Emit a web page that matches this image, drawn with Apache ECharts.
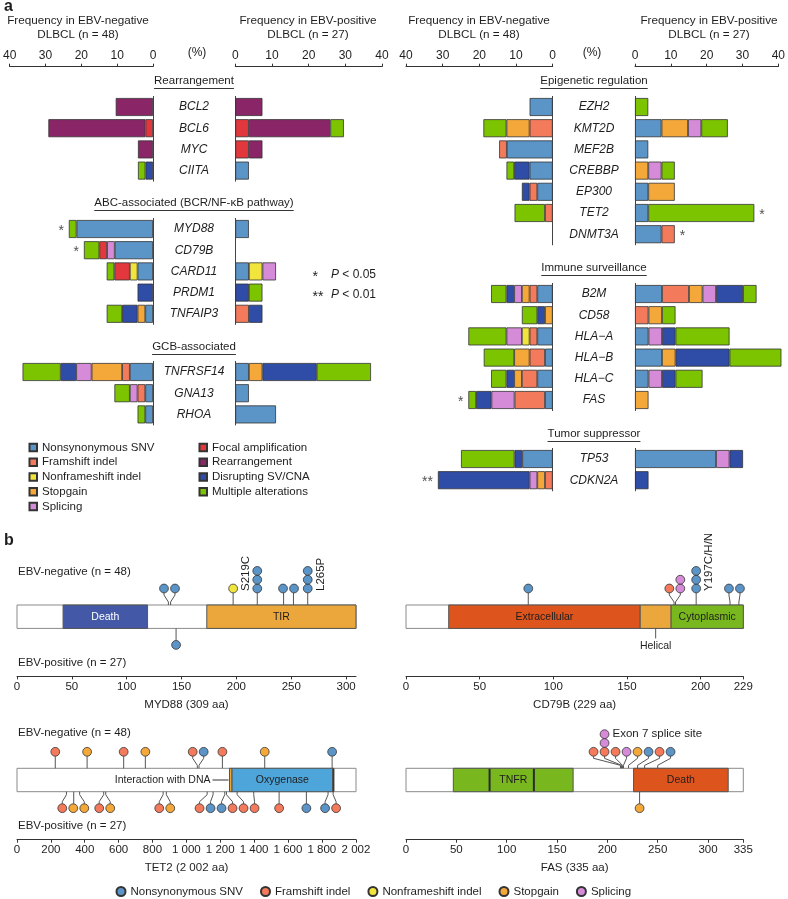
<!DOCTYPE html>
<html><head><meta charset="utf-8"><title>EBV DLBCL alterations</title>
<script src="https://cdn.jsdelivr.net/npm/echarts@6.0.0/dist/echarts.min.js"></script>
<style>html,body{margin:0;padding:0;background:#fff;}#chart{width:788px;height:899px;}</style>
</head><body><div id="chart"></div>
<script>
// ================= DATA: panel a =================
const types = ['Nonsynonymous SNV','Framshift indel','Nonframeshift indel','Stopgain','Splicing',
  'Focal amplification','Rearrangement','Disrupting SV/CNA','Multiple alterations'];
const genes = ['BCL2','BCL6','MYC','CIITA','MYD88','CD79B','CARD11','PRDM1','TNFAIP3','TNFRSF14','GNA13','RHOA',
  'EZH2','KMT2D','MEF2B','CREBBP','EP300','TET2','DNMT3A','B2M','CD58','HLA−A','HLA−B','HLA−C','FAS','TP53','CDKN2A'];
const groupNames = ['Rearrangement','ABC-associated (BCR/NF-κB pathway)','GCB-associated',
  'Epigenetic regulation','Immune surveillance','Tumor suppressor'];
const groupRearr = ['BCL2','BCL6','MYC','CIITA'];
const groupABC = ['MYD88','CD79B','CARD11','PRDM1','TNFAIP3'];
const groupGCB = ['TNFRSF14','GNA13','RHOA'];
const groupEpi = ['EZH2','KMT2D','MEF2B','CREBBP','EP300','TET2','DNMT3A'];
const groupImm = ['B2M','CD58','HLA−A','HLA−B','HLA−C','FAS'];
const groupTS = ['TP53','CDKN2A'];
const pctTicks = [0, 10, 20, 30, 40];

// Frequency (%) in EBV-negative DLBCL (n = 48), gene order as in `genes`
const negSNV = [0,0,0,0, 20.8,10.4,4.2,0,2.1, 6.3,2.1,2.1, 6.3,0,12.5,6.3,4.2,0,0, 4.2,0,4.2,2.1,4.2,2.1, 8.3,0];
const negFS  = [0,0,0,0, 0,0,0,0,0, 2.1,2.1,0, 0,6.3,2.1,0,2.1,2.1,0, 2.1,0,2.1,4.2,4.2,8.3, 0,2.1];
const negNFS = [0,0,0,0, 0,0,2.1,0,0, 0,0,0, 0,0,0,0,0,0,0, 0,0,2.1,0,0,0, 0,0];
const negSG  = [0,0,0,0, 0,0,0,0,2.1, 8.3,0,0, 0,6.3,0,0,0,0,0, 2.1,2.1,0,4.2,2.1,0, 0,2.1];
const negSP  = [0,0,0,0, 0,2.1,0,0,0, 4.2,2.1,0, 0,0,0,0,0,0,0, 2.1,0,4.2,0,0,6.3, 0,2.1];
const negAMP = [0,2.1,0,0, 0,2.1,4.2,0,0, 0,0,0, 0,0,0,0,0,0,0, 0,0,0,0,0,0, 0,0];
const negREA = [10.4,27.1,4.2,0, 0,0,0,0,0, 0,0,0, 0,0,0,0,0,0,0, 0,0,0,0,0,0, 0,0];
const negSV  = [0,0,0,2.1, 0,0,0,4.2,4.2, 4.2,0,0, 0,0,0,4.2,2.1,0,0, 2.1,2.1,0,0,2.1,4.2, 2.1,25.0];
const negMUL = [0,0,0,2.1, 2.1,4.2,2.1,0,4.2, 10.4,4.2,2.1, 0,6.3,0,2.1,0,8.3,0, 4.2,4.2,10.4,8.3,4.2,2.1, 14.6,0];
// Frequency (%) in EBV-positive DLBCL (n = 27)
const posSNV = [0,0,0,3.7, 3.7,0,3.7,0,0, 3.7,3.7,11.1, 0,7.4,3.7,0,3.7,3.7,7.4, 7.4,0,3.7,7.4,3.7,0, 22.2,0];
const posFS  = [0,0,0,0, 0,0,0,0,3.7, 0,0,0, 0,0,0,0,0,0,3.7, 7.4,3.7,0,0,0,0, 0,0];
const posNFS = [0,0,0,0, 0,0,3.7,0,0, 0,0,0, 0,0,0,0,0,0,0, 0,0,0,0,0,0, 0,0];
const posSG  = [0,0,0,0, 0,0,0,0,0, 3.7,0,0, 0,7.4,0,3.7,7.4,0,0, 3.7,3.7,0,3.7,0,3.7, 0,0];
const posSP  = [0,0,0,0, 0,0,3.7,0,0, 0,0,0, 0,3.7,0,3.7,0,0,0, 3.7,0,3.7,0,3.7,0, 3.7,0];
const posAMP = [0,3.7,3.7,0, 0,0,0,0,0, 0,0,0, 0,0,0,0,0,0,0, 0,0,0,0,0,0, 0,0];
const posREA = [7.4,22.2,3.7,0, 0,0,0,0,0, 0,0,0, 0,0,0,0,0,0,0, 0,0,0,0,0,0, 0,0];
const posSV  = [0,0,0,0, 0,0,0,3.7,3.7, 14.8,0,0, 0,0,0,0,0,0,0, 7.4,0,3.7,14.8,3.7,0, 3.7,3.7];
const posMUL = [0,3.7,0,0, 0,0,0,3.7,0, 14.8,0,0, 3.7,7.4,0,3.7,0,29.6,0, 3.7,3.7,14.8,14.8,7.4,0, 0,0];
const negStars = {MYD88:'*', CD79B:'*', FAS:'*', CDKN2A:'**'};
const posStars = {TET2:'*', DNMT3A:'*'};

// ================= DATA: panel b =================
const myd88Ticks = [0,50,100,150,200,250,300,309];
const cd79bTicks = [0,50,100,150,200,229];
const tet2Ticks  = [0,200,400,600,800,1000,1200,1400,1600,1800,2002];
const fasTicks   = [0,50,100,150,200,250,300,335];
const proteinNames = ['MYD88','CD79B','TET2','FAS'];
const proteinLengths = [309, 229, 2002, 335];
const myd88DomNames = ['Death','TIR'];            const myd88DomStart = [42,173];        const myd88DomEnd = [119,309];
const cd79bDomNames = ['Extracellular','Helical','Cytoplasmic']; const cd79bDomStart = [29,159,180]; const cd79bDomEnd = [159,180,229];
const tet2DomNames  = ['Interaction with DNA','Oxygenase',''];   const tet2DomStart = [1255,1270,1864]; const tet2DomEnd = [1270,1864,1872];
const fasDomNames   = ['TNFR','Death'];           const fasDomStart = [47,226];          const fasDomEnd = [166,320];
const fasRepeatBounds = [83,127];
// mutations: [amino-acid position, type, number of cases]
const myd88Neg = [[138,'SNV',1],[140,'SNV',1],[197,'NFS',1],[219,'SNV',3],[243,'SNV',1],[252,'SNV',1],[265,'SNV',3]];
const myd88Pos = [[145,'SNV',1]];
const cd79bNeg = [[83,'SNV',1],[182,'FS',1],[183,'SP',2],[197,'SNV',3],[220,'SNV',1],[226,'SNV',1]];
const cd79bPos = [];
const tet2Neg = [[226,'FS',1],[414,'SG',1],[630,'FS',1],[758,'SG',1],[1065,'FS',1],[1075,'SNV',1],[1213,'FS',1],[1463,'SG',1],[1861,'SNV',1]];
const tet2Pos = [[292,'FS',1],[335,'SG',1],[370,'SG',1],[512,'FS',1],[524,'SG',1],[863,'FS',1],[882,'SG',1],[1123,'FS',1],
  [1158,'SNV',1],[1227,'SNV',1],[1237,'FS',1],[1300,'FS',1],[1398,'FS',1],[1548,'FS',1],[1709,'SNV',1],[1837,'SNV',1],[1867,'FS',1]];
const fasNeg = [[213,'FS',1],[214,'FS',1],[214,'SP',2],[215,'FS',1],[216,'SP',1],[221,'SG',1],[230,'SNV',1],[237,'FS',1],[250,'SNV',1]];
const fasPos = [[232,'SG',1]];
const myd88Notes = [[219,'S219C'],[265,'L265P']];
const cd79bNotes = [[197,'Y197C/H/N']];
const tet2Notes = [];
const fasNotes = [[214,'Exon 7 splice site']];

// ================= STYLE / LAYOUT =================
const FONT = '"Liberation Sans", Arial, Helvetica, sans-serif';
const TXT = '#1e1e1e';
const colors = ['#5b95c8','#f47a5c','#f1e43c','#f5a83a','#d68bd9','#e2383d','#8a2667','#2f4ca6','#7cc300'];
const mutType = {SNV:0, FS:1, NFS:2, SG:3, SP:4};
const negData = [negSNV,negFS,negNFS,negSG,negSP,negAMP,negREA,negSV,negMUL];
const posData = [posSNV,posFS,posNFS,posSG,posSP,posAMP,posREA,posSV,posMUL];
const groupGenes = [groupRearr, groupABC, groupGCB, groupEpi, groupImm, groupTS];
const groupLayout = [{col:0,top:96.4},{col:0,top:218.4},{col:0,top:361.4},{col:1,top:96.4},{col:1,top:283.4},{col:1,top:448.4}];
const colX = [{neg:[6,153], pos:[235.3,382], mid:194}, {neg:[406,552.7], pos:[635,781], mid:594}];
const ROW = 21.2, AXIS_Y = 66.7;

const mctx = document.createElement('canvas').getContext('2d');
function textW(t, size){ mctx.font = size + 'px "Liberation Sans", Arial'; return mctx.measureText(t).width; }
function T(x, y, text, opt){ return {type:'text', x:x, y:y, silent:true, style:Object.assign({text:text, fontSize:11.5, fontFamily:FONT, fill:TXT, align:'center', verticalAlign:'middle'}, opt||{})}; }

const grids = [], xAxes = [], yAxes = [], series = [], graphics = [];

// ---------- panel a ----------
groupGenes.forEach(function(gl, g){
  const L = groupLayout[g], C = colX[L.col];
  ['neg','pos'].forEach(function(side){
    const gi = grids.length;
    const xr = C[side];
    grids.push({left:xr[0], top:L.top, width:xr[1]-xr[0], height:gl.length*ROW});
    const first = (g === 0 || g === 3);
    xAxes.push({gridIndex:gi, type:'value', min:0, max:40, interval:10, inverse: side==='neg', position:'top',
      offset: L.top - AXIS_Y, show:first,
      axisLine:{show:true, lineStyle:{color:'#333', width:1}},
      axisTick:{show:true, length:3, lineStyle:{color:'#333'}},
      axisLabel:{margin:5, fontSize:12, color:TXT, fontFamily:FONT},
      splitLine:{show:false}});
    yAxes.push({gridIndex:gi, type:'category', data:gl, inverse:true, position: side==='neg' ? 'right' : 'left',
      axisLine:{show:true, lineStyle:{color:'#444', width:1}}, axisTick:{show:false},
      axisLabel: side==='neg' ? {show:true, align:'center', margin:C.mid - xr[1], fontStyle:'italic', fontSize:12, color:TXT, fontFamily:FONT} : {show:false},
      splitLine:{show:false}});
    const src = side==='neg' ? negData : posData;
    types.forEach(function(t, ti){
      series.push({type:'bar', name:t, xAxisIndex:gi, yAxisIndex:gi, stack:'s'+gi, barWidth:18, silent:true,
        data: gl.map(function(gn){ const v = src[ti][genes.indexOf(gn)]; return v > 0 ? v : '-'; }),
        itemStyle:{color:colors[ti], borderColor:'#333', borderWidth:0.8}});
    });
    const stars = side==='neg' ? negStars : posStars;
    const sd = gl.filter(function(gn){ return stars[gn]; }).map(function(gn){
      const k = genes.indexOf(gn);
      return [src.reduce(function(s, arr){ return s + arr[k]; }, 0), gn, stars[gn]];
    });
    if (sd.length) series.push({type:'scatter', xAxisIndex:gi, yAxisIndex:gi, symbolSize:0, silent:true, data:sd,
      label:{show:true, position: side==='neg' ? 'left' : 'right', distance:5, formatter:function(p){ return p.data[2]; },
        fontSize:14, color:TXT, fontFamily:FONT, offset:[0,2]}});
  });
});

// titles
graphics.push(T(4, 7, 'a', {align:'left', fontSize:16, fontWeight:'bold'}));
[[78,'Frequency in EBV-negative','DLBCL (n = 48)'],[308,'Frequency in EBV-positive','DLBCL (n = 27)'],
 [479,'Frequency in EBV-negative','DLBCL (n = 48)'],[709,'Frequency in EBV-positive','DLBCL (n = 27)']].forEach(function(t){
  graphics.push(T(t[0], 20.5, t[1], {fontSize:11.7}));
  graphics.push(T(t[0], 34.5, t[2], {fontSize:11.7}));
});
graphics.push(T(197, 53, '(%)', {fontSize:12}));
graphics.push(T(592, 53, '(%)', {fontSize:12}));
// group headers (underlined)
const headerY = [81, 203, 347, 81, 268, 434];
groupNames.forEach(function(n, g){
  const cx = colX[groupLayout[g].col].mid, y = headerY[g], w = textW(n, 11.5);
  graphics.push(T(cx, y, n));
  graphics.push({type:'line', silent:true, shape:{x1:cx-w/2, y1:y+7.5, x2:cx+w/2, y2:y+7.5}, style:{stroke:TXT, lineWidth:0.9}});
});
// P-value key
graphics.push(T(312.5, 277, '*', {align:'left', fontSize:14}));
graphics.push(T(331, 275, '{i|P} < 0.05', {align:'left', fontSize:12, rich:{i:{fontStyle:'italic', fontSize:12, fontFamily:FONT, fill:TXT}}}));
graphics.push(T(312.5, 297, '**', {align:'left', fontSize:14}));
graphics.push(T(331, 295, '{i|P} < 0.01', {align:'left', fontSize:12, rich:{i:{fontStyle:'italic', fontSize:12, fontFamily:FONT, fill:TXT}}}));

// ---------- panel b ----------
graphics.push(T(4, 541, 'b', {align:'left', fontSize:16, fontWeight:'bold'}));
const BH = 23.4, AX_GAP = 48;
const domainColors = [
  [['#4358a7','#ffffff'],['#eba73b',TXT]],
  [['#de541d',TXT],['#eba73b',TXT],['#79b71f',TXT]],
  [['#eba73b',TXT],['#4ea5d9',TXT],['#151515',TXT]],
  [['#79b71f',TXT],['#de541d',TXT]]
];
const outsideLabel = {'Helical':'below', 'Interaction with DNA':'left'};
const noteSide = {'S219C':-1};
const bLayout = [{left:17, right:356, top:605, mode:'vertical'},{left:406, right:743.3, top:605, mode:'vertical'},
                 {left:17, right:356, top:768.3, mode:'vertical'},{left:406, right:743.3, top:768.3, mode:'horizontal'}];
const bTicks = [myd88Ticks, cd79bTicks, tet2Ticks, fasTicks];
const bDoms = [[myd88DomNames,myd88DomStart,myd88DomEnd],[cd79bDomNames,cd79bDomStart,cd79bDomEnd],
               [tet2DomNames,tet2DomStart,tet2DomEnd],[fasDomNames,fasDomStart,fasDomEnd]];
const bMuts = [[myd88Neg,myd88Pos],[cd79bNeg,cd79bPos],[tet2Neg,tet2Pos],[fasNeg,fasPos]];
const bNotes = [myd88Notes, cd79bNotes, tet2Notes, fasNotes];
function fmtNum(v){ return v >= 1000 ? String(v).replace(/\B(?=(\d{3})+(?!\d))/g, ' ') : String(v); }

function buildStacks(muts, api){
  const stacks = [];
  muts.forEach(function(m, i){
    let s = stacks.find(function(q){ return q.aa === m[0]; });
    if (!s){ s = {aa:m[0], first:i, items:[], x0:api.coord([m[0], 0.5])[0]}; stacks.push(s); }
    s.items.push(m);
  });
  stacks.sort(function(a, b){ return a.x0 - b.x0; });
  stacks.forEach(function(s){ s.x = s.x0; });
  const SP = 11;
  for (let it = 0; it < 600; it++){
    for (let i = 0; i < stacks.length - 1; i++){
      const gap = stacks[i+1].x - stacks[i].x;
      if (gap < SP){ const d = (SP - gap)/2; stacks[i].x -= d; stacks[i+1].x += d; }
    }
  }
  return stacks;
}

function lolliSeries(gi, muts, dir, notes, mode){
  const R = 4.4, STEP = 8.8, BASE = 16.5;
  return {type:'custom', xAxisIndex:gi, yAxisIndex:gi, silent:true, clip:false, z:4,
    data: muts.map(function(m){ return [m[0], 0.5]; }),
    renderItem: function(params, api){
      const ctx = params.context;
      if (!ctx.stacks) ctx.stacks = buildStacks(muts, api);
      const m = muts[params.dataIndex];
      const st = ctx.stacks.find(function(q){ return q.aa === m[0]; });
      if (st.first !== params.dataIndex) return {type:'group', children:[]};
      const y0 = dir < 0 ? api.coord([0, 1])[1] : api.coord([0, 0])[1];
      const cy0 = y0 + dir*BASE;
      const ch = [];
      const pts = Math.abs(st.x - st.x0) < 0.8
        ? [[st.x0, y0], [st.x0, cy0 - dir*R]]
        : [[st.x0, y0], [st.x0, y0 + dir*3], [st.x, y0 + dir*10], [st.x, cy0 - dir*R]];
      ch.push({type:'polyline', shape:{points:pts}, style:{stroke:'#555', lineWidth:1, fill:null}});
      let k = 0;
      st.items.forEach(function(it){
        for (let c = 0; c < it[2]; c++){
          ch.push({type:'circle', shape:{cx:st.x, cy:cy0 + dir*k*STEP, r:R},
            style:{fill:colors[mutType[it[1]]], stroke:'#333', lineWidth:0.8}});
          k++;
        }
      });
      const note = notes.find(function(n){ return n[0] === st.aa; });
      if (note){
        if (mode === 'vertical'){
          const s = noteSide[note[1]] || 1;
          ch.push({type:'text', x: st.x + (s > 0 ? 13 : -11), y: y0 - 14, rotation: Math.PI/2,
            style:{text:note[1], fontSize:11.5, fontFamily:FONT, fill:TXT, align:'left', verticalAlign:'middle'}});
        } else {
          ch.push({type:'text', x: st.x + 8, y: cy0 + dir*(k-1)*STEP,
            style:{text:note[1], fontSize:11.5, fontFamily:FONT, fill:TXT, align:'left', verticalAlign:'middle'}});
        }
      }
      return {type:'group', children:ch};
    }};
}

proteinNames.forEach(function(pn, p){
  const Lb = bLayout[p], len = proteinLengths[p];
  // protein bar grid
  const gi = grids.length;
  grids.push({left:Lb.left, top:Lb.top, width:Lb.right-Lb.left, height:BH});
  xAxes.push({gridIndex:gi, type:'value', min:0, max:len, show:false});
  yAxes.push({gridIndex:gi, type:'value', min:0, max:1, show:false});
  // amino-acid axis grid (same x scale, placed below)
  const ai = grids.length;
  grids.push({left:Lb.left, top:Lb.top + BH + AX_GAP - 1, width:Lb.right-Lb.left, height:1});
  xAxes.push({gridIndex:ai, type:'value', min:0, max:len, position:'bottom',
    axisLine:{show:true, lineStyle:{color:'#333', width:1}},
    axisTick:{show:true, length:3, customValues:bTicks[p], lineStyle:{color:'#333'}},
    axisLabel:{customValues:bTicks[p], margin:4.5, fontSize:11.5, fontFamily:FONT, color:TXT, formatter:function(v){ return fmtNum(v); }},
    splitLine:{show:false},
    name: pn + ' (' + fmtNum(len) + ' aa)', nameLocation:'middle', nameGap:22,
    nameTextStyle:{fontSize:11.5, fontFamily:FONT, color:TXT}});
  yAxes.push({gridIndex:ai, type:'value', min:0, max:1, show:false});

  const D = bDoms[p];
  const items = [{name:'', s:0, e:len, fill:'#ffffff', tc:TXT, stroke:'#8a8a8a'}].concat(
    D[0].map(function(n, i){ return {name:n, s:D[1][i], e:D[2][i], fill:domainColors[p][i][0], tc:domainColors[p][i][1], stroke:'#555'}; }));
  series.push({type:'custom', xAxisIndex:gi, yAxisIndex:gi, silent:true, clip:false, z:2,
    data: items.map(function(d){ return [d.s, 0.5]; }),
    renderItem: function(params, api){
      const d = items[params.dataIndex];
      const p0 = api.coord([d.s, 1]), p1 = api.coord([d.e, 0]);
      const ch = [{type:'rect', shape:{x:p0[0], y:p0[1], width:p1[0]-p0[0], height:p1[1]-p0[1]},
        style:{fill:d.fill, stroke:d.stroke, lineWidth:1}}];
      if (d.name){
        const cx = (p0[0]+p1[0])/2, cy = (p0[1]+p1[1])/2;
        const mode = outsideLabel[d.name];
        const st = {text:d.name, fontSize:10.5, fontFamily:FONT, fill:d.tc, verticalAlign:'middle'};
        if (mode === 'below'){
          ch.push({type:'line', shape:{x1:cx, y1:p1[1], x2:cx, y2:p1[1]+10}, style:{stroke:'#555', lineWidth:1}});
          ch.push({type:'text', x:cx, y:p1[1]+18, style:Object.assign({}, st, {align:'center', fill:TXT})});
        } else if (mode === 'left'){
          ch.push({type:'line', shape:{x1:p0[0]-17, y1:cy, x2:p0[0]-1, y2:cy}, style:{stroke:'#333', lineWidth:1}});
          ch.push({type:'text', x:p0[0]-19, y:cy, style:Object.assign({}, st, {align:'right', fill:TXT})});
        } else {
          ch.push({type:'text', x:cx, y:cy, style:Object.assign({}, st, {align:'center'})});
        }
      }
      return {type:'group', children:ch};
    }});
  if (pn === 'FAS'){
    series.push({type:'custom', xAxisIndex:gi, yAxisIndex:gi, silent:true, clip:false, z:3,
      data: fasRepeatBounds.map(function(b){ return [b, 0.5]; }),
      renderItem: function(params, api){
        const b = fasRepeatBounds[params.dataIndex];
        const a = api.coord([b, 1]), c = api.coord([b, 0]);
        return {type:'line', shape:{x1:a[0], y1:a[1]+0.5, x2:c[0], y2:c[1]-0.5}, style:{stroke:'#2a2a2a', lineWidth:2}};
      }});
  }
  series.push(lolliSeries(gi, bMuts[p][0], -1, bNotes[p], Lb.mode));
  series.push(lolliSeries(gi, bMuts[p][1], 1, bNotes[p], Lb.mode));
});
graphics.push(T(18, 572, 'EBV-negative (n = 48)', {align:'left'}));
graphics.push(T(18, 662.7, 'EBV-positive (n = 27)', {align:'left'}));
graphics.push(T(18, 733.3, 'EBV-negative (n = 48)', {align:'left'}));
graphics.push(T(18, 826, 'EBV-positive (n = 27)', {align:'left'}));

const legendText = {fontSize:11.5, fontFamily:FONT, color:TXT, lineHeight:14};
const option = {
  animation:false,
  backgroundColor:'#ffffff',
  textStyle:{fontFamily:FONT},
  grid:grids, xAxis:xAxes, yAxis:yAxes, series:series,
  legend:[
    {orient:'vertical', left:28.5, top:440.5, icon:'rect', itemWidth:7.5, itemHeight:7.5, itemGap:0.75, selectedMode:false,
      data:types.slice(0,5), textStyle:legendText, padding:0},
    {orient:'vertical', left:198.5, top:440.5, icon:'rect', itemWidth:7.5, itemHeight:7.5, itemGap:0.75, selectedMode:false,
      data:types.slice(5), textStyle:legendText, padding:0},
    {orient:'horizontal', left:115.5, top:884.5, icon:'circle', itemWidth:9, itemHeight:9, itemGap:17, selectedMode:false,
      data:types.slice(0,5), textStyle:legendText, padding:0}
  ],
  graphic:{elements:graphics}
};
const chart = echarts.init(document.getElementById('chart'), null, {renderer:'canvas'});
chart.setOption(option);
</script>
</body></html>
